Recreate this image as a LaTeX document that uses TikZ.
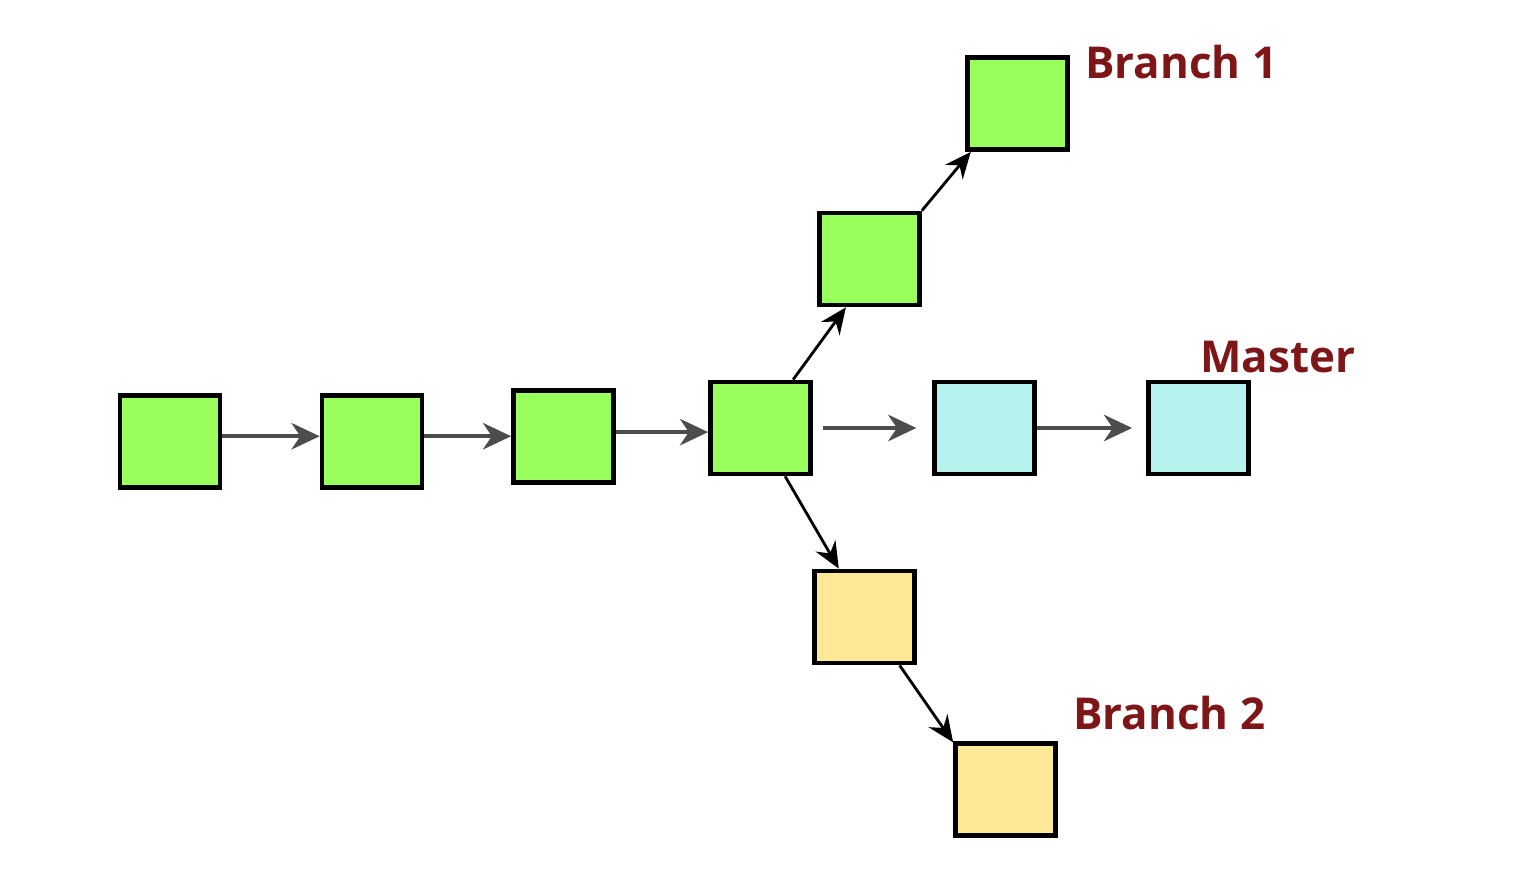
\documentclass[tikz,border=0pt]{standalone}
\usepackage{fontspec}
\setmainfont{Open Sans}
\usetikzlibrary{arrows.meta}
\definecolor{commitgreen}{RGB}{153,255,92}
\definecolor{commitcyan}{RGB}{182,242,238}
\definecolor{commityellow}{RGB}{255,232,150}
\definecolor{labelred}{RGB}{126,22,24}
\tikzset{
  commit/.style={draw=black,line width=2.7pt,minimum width=2.0cm,minimum height=1.84cm,inner sep=0pt},
  flow/.style={-{Stealth[length=16pt,width=15pt,inset=5pt]},draw=black!70,line width=2.4pt},
  fork/.style={-{Stealth[length=15pt,width=13pt,inset=5pt]},draw=black,line width=1.6pt},
  tag/.style={text=labelred,font=\fontsize{25}{30}\selectfont\bfseries,anchor=west,inner sep=0pt}
}
\begin{document}
\begin{tikzpicture}[x=0.02cm,y=-0.02cm]
            \useasboundingbox (0,0) rectangle (1536,892);
            % Master
            \node[commit,fill=commitgreen] (c1) at (170,441.5) {};
            \node[commit,fill=commitgreen] (c2) at (372,441.5) {};
            \node[commit,fill=commitgreen] (c3) at (563.5,436.5) {};
            \node[commit,fill=commitgreen] (c4) at (760.5,428) {};
            \node[commit,fill=commitcyan] (m1) at (984.5,428) {};
            \node[commit,fill=commitcyan] (m2) at (1198.5,428) {};
            % Branch 1
            \node[commit,fill=commitgreen] (a1) at (869.5,259) {};
            \node[commit,fill=commitgreen] (a2) at (1017.5,103.5) {};
            % Branch 2
            \node[commit,fill=commityellow] (b1) at (864.5,617) {};
            \node[commit,fill=commityellow] (b2) at (1005.5,789.5) {};
            \draw[flow] ([yshift=3pt]c1.east)--([yshift=3pt]c1.east -| c2.west);
            \draw[flow] ([yshift=3pt]c2.east)--([yshift=3pt]c2.east -| c3.west);
            \draw[flow] ([yshift=2.5pt]c3.east)--([yshift=2.5pt]c3.east -| c4.west);
            \draw[flow,shorten <=6pt,shorten >=9pt] (c4)--(m1);
            \draw[flow,shorten >=8pt] (m1)--(m2);
            \draw[fork] (c4.56)--(a1.244);
            \draw[fork] (a1.north east)--(a2.226);
            \draw[fork] (c4.297)--(b1.118);
            \draw[fork] (b1.306)--(b2.138);
            \node[tag] (l1) at (1085,62) {Branch 1};
            \node[tag] (l2) at (1200,357) {Master};
            \node[tag] (l3) at (1073,713) {Branch 2};
    \end{tikzpicture}
\end{document}
